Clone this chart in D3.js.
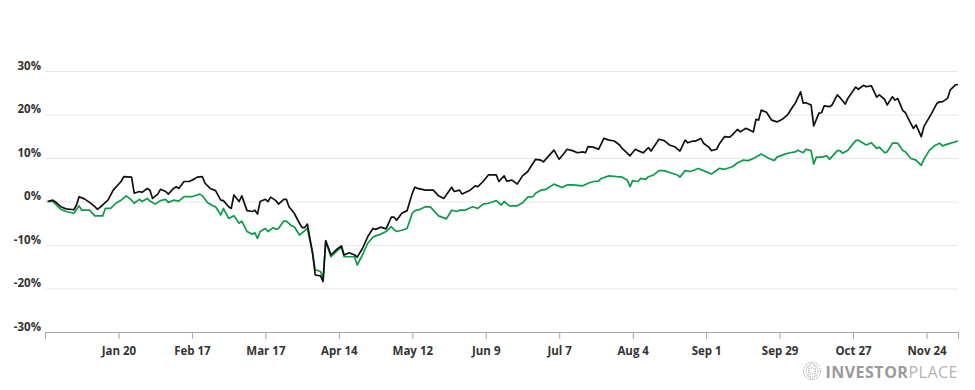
<!DOCTYPE html>
<html>
<head>
<meta charset="utf-8">
<script src="https://cdn.jsdelivr.net/npm/d3@7"></script>
<style>
  body { margin: 0; background: #fff; }
  svg { display: block; }
  svg text { font-family: "Open Sans", sans-serif; }
</style>
</head>
<body>
<script>
// performance since Dec 24 2024, in percent
var fundDates = ["2024-12-24","2024-12-26","2024-12-27","2024-12-29","2024-12-31","2025-01-03","2025-01-04","2025-01-05","2025-01-07","2025-01-09",
  "2025-01-11","2025-01-12","2025-01-14","2025-01-16","2025-01-18","2025-01-21","2025-01-22","2025-01-25","2025-01-26","2025-01-28",
  "2025-01-29","2025-01-31","2025-02-01","2025-02-02","2025-02-04","2025-02-05","2025-02-07","2025-02-08","2025-02-10","2025-02-11",
  "2025-02-12","2025-02-14","2025-02-16","2025-02-18","2025-02-19","2025-02-21","2025-02-22","2025-02-24","2025-02-26","2025-02-28",
  "2025-03-01","2025-03-03","2025-03-04","2025-03-05","2025-03-07","2025-03-08","2025-03-10","2025-03-12","2025-03-13","2025-03-14",
  "2025-03-15","2025-03-17","2025-03-18","2025-03-19","2025-03-21","2025-03-22","2025-03-24","2025-03-25","2025-03-26","2025-03-28",
  "2025-03-30","2025-03-31","2025-04-01","2025-04-02","2025-04-04","2025-04-05","2025-04-07","2025-04-08","2025-04-09","2025-04-11",
  "2025-04-13","2025-04-15","2025-04-16","2025-04-18","2025-04-20","2025-04-21","2025-04-23","2025-04-25","2025-04-27","2025-04-28",
  "2025-04-30","2025-05-02","2025-05-04","2025-05-05","2025-05-06","2025-05-08","2025-05-10","2025-05-12","2025-05-13","2025-05-14",
  "2025-05-17","2025-05-20","2025-05-22","2025-05-24","2025-05-27","2025-05-28","2025-05-30","2025-05-31","2025-06-03","2025-06-05",
  "2025-06-06","2025-06-08","2025-06-10","2025-06-13","2025-06-14","2025-06-16","2025-06-17","2025-06-19","2025-06-21","2025-06-23",
  "2025-06-25","2025-06-27","2025-06-28","2025-06-30","2025-07-01","2025-07-03","2025-07-05","2025-07-07","2025-07-09","2025-07-10",
  "2025-07-12","2025-07-14","2025-07-16","2025-07-17","2025-07-18","2025-07-20","2025-07-22","2025-07-24","2025-07-26","2025-07-28",
  "2025-07-30","2025-07-31","2025-08-03","2025-08-05","2025-08-06","2025-08-08","2025-08-10","2025-08-11","2025-08-13","2025-08-14",
  "2025-08-16","2025-08-18","2025-08-20","2025-08-22","2025-08-24","2025-08-25","2025-08-27","2025-08-28","2025-08-30","2025-08-31",
  "2025-09-02","2025-09-03","2025-09-05","2025-09-06","2025-09-08","2025-09-10","2025-09-11","2025-09-13","2025-09-14","2025-09-16",
  "2025-09-17","2025-09-19","2025-09-20","2025-09-21","2025-09-22","2025-09-24","2025-09-26","2025-09-28","2025-09-30","2025-10-02",
  "2025-10-04","2025-10-05","2025-10-07","2025-10-08","2025-10-09","2025-10-11","2025-10-12","2025-10-14","2025-10-15","2025-10-16",
  "2025-10-18","2025-10-19","2025-10-21","2025-10-22","2025-10-24","2025-10-25","2025-10-28","2025-10-29","2025-10-31","2025-11-01",
  "2025-11-03","2025-11-05","2025-11-06","2025-11-08","2025-11-09","2025-11-11","2025-11-12","2025-11-13","2025-11-15","2025-11-16",
  "2025-11-17","2025-11-19","2025-11-20","2025-11-22","2025-11-23","2025-11-26","2025-11-28","2025-11-29","2025-11-30","2025-12-02",
  "2025-12-03","2025-12-05","2025-12-06"];
var fundReturns = [0, 0.3, -0.1, -1.2, -1.7, -1.9, -0.8, 1.1, 0.6, -0.2,
  -1.2, -1.8, -0.8, 0.3, 2.6, 4.6, 5.7, 5.6, 1.9, 2.3,
  2.1, 3.0, 2.6, 0.7, 1.7, 2.8, 2.3, 1.7, 3.0, 3.4,
  3.0, 4.6, 4.6, 5.2, 5.6, 5.7, 4.2, 3.0, 2.5, 0.3,
  0.2, -1.2, -1.6, 1.5, 0, 1.3, -2.1, -2.3, -2.0, -2.9,
  0, 0.5, 0, 1.0, 0.2, -0.6, 0.5, 0.5, -1.2, -2.7,
  -5.0, -6.0, -6.0, -5.2, -11.9, -16.9, -17.1, -18.4, -9.0, -12.3,
  -11.1, -10.2, -12.3, -11.8, -12.3, -12.8, -10.8, -8.1, -6.2, -6.4,
  -5.9, -6.3, -3.6, -3.6, -4.3, -2.7, -2.1, 1.9, 3.3, 3.0,
  2.6, 2.6, 1.3, 0.7, 3.3, 2.3, 2.6, 1.7, 2.6, 3.6,
  3.4, 4.6, 6.1, 6.1, 4.6, 5.9, 4.7, 4.9, 4.0, 5.9,
  6.9, 8.8, 9.7, 9.5, 9.1, 10.5, 11.8, 9.7, 11.2, 12.0,
  11.7, 11.2, 11.4, 11.2, 12.6, 12.5, 12.0, 14.5, 14.1, 13.9,
  13.0, 12.2, 10.5, 12.0, 11.7, 11.2, 12.4, 11.6, 13.4, 14.3,
  14.0, 13.0, 12.6, 11.6, 14.1, 13.5, 13.9, 13.9, 14.5, 13.4,
  12.5, 11.7, 12.0, 13.2, 14.9, 14.8, 15.3, 16.6, 16.0, 16.8,
  16.6, 16.0, 18.9, 18.7, 21.0, 20.5, 18.7, 18.3, 18.9, 19.9,
  21.8, 22.6, 25.2, 22.6, 22.7, 22.2, 17.4, 20.3, 20.4, 22.0,
  21.8, 22.2, 24.5, 23.9, 22.4, 23.7, 26.3, 25.8, 26.7, 26.4,
  26.6, 24.0, 24.5, 23.5, 22.2, 24.1, 23.3, 23.7, 20.9, 20.4,
  19.1, 16.8, 17.6, 14.9, 17.2, 20.3, 22.6, 22.9, 22.9, 23.7,
  25.6, 26.8, 26.9];

var benchDates = ["2024-12-24","2024-12-26","2024-12-29","2024-12-31","2025-01-03","2025-01-05","2025-01-06","2025-01-09","2025-01-11","2025-01-14",
  "2025-01-15","2025-01-17","2025-01-19","2025-01-21","2025-01-23","2025-01-25","2025-01-26","2025-01-28","2025-01-29","2025-01-31",
  "2025-02-01","2025-02-03","2025-02-05","2025-02-07","2025-02-08","2025-02-10","2025-02-12","2025-02-14","2025-02-17","2025-02-19",
  "2025-02-20","2025-02-21","2025-02-23","2025-02-25","2025-02-26","2025-02-28","2025-03-01","2025-03-03","2025-03-05","2025-03-07",
  "2025-03-08","2025-03-10","2025-03-12","2025-03-13","2025-03-14","2025-03-15","2025-03-17","2025-03-18","2025-03-20","2025-03-21",
  "2025-03-22","2025-03-24","2025-03-25","2025-03-27","2025-03-28","2025-03-30","2025-03-31","2025-04-02","2025-04-04","2025-04-05",
  "2025-04-07","2025-04-08","2025-04-09","2025-04-11","2025-04-13","2025-04-15","2025-04-16","2025-04-18","2025-04-20","2025-04-21",
  "2025-04-23","2025-04-25","2025-04-27","2025-04-28","2025-04-30","2025-05-02","2025-05-04","2025-05-05","2025-05-06","2025-05-08",
  "2025-05-10","2025-05-12","2025-05-13","2025-05-15","2025-05-17","2025-05-19","2025-05-20","2025-05-22","2025-05-25","2025-05-27",
  "2025-05-29","2025-05-30","2025-06-01","2025-06-04","2025-06-06","2025-06-08","2025-06-10","2025-06-12","2025-06-13","2025-06-15",
  "2025-06-16","2025-06-18","2025-06-21","2025-06-23","2025-06-25","2025-06-27","2025-06-28","2025-06-30","2025-07-02","2025-07-05",
  "2025-07-08","2025-07-10","2025-07-12","2025-07-16","2025-07-18","2025-07-20","2025-07-22","2025-07-23","2025-07-26","2025-07-29",
  "2025-07-31","2025-08-02","2025-08-03","2025-08-04","2025-08-06","2025-08-07","2025-08-09","2025-08-10","2025-08-12","2025-08-14",
  "2025-08-16","2025-08-19","2025-08-21","2025-08-22","2025-08-24","2025-08-26","2025-08-29","2025-08-31","2025-09-03","2025-09-06",
  "2025-09-08","2025-09-11","2025-09-13","2025-09-15","2025-09-17","2025-09-19","2025-09-22","2025-09-25","2025-09-27","2025-09-28",
  "2025-10-01","2025-10-03","2025-10-05","2025-10-06","2025-10-08","2025-10-09","2025-10-11","2025-10-12","2025-10-13","2025-10-15",
  "2025-10-17","2025-10-18","2025-10-21","2025-10-22","2025-10-23","2025-10-25","2025-10-28","2025-10-29","2025-11-01","2025-11-03",
  "2025-11-05","2025-11-06","2025-11-08","2025-11-09","2025-11-11","2025-11-13","2025-11-15","2025-11-16","2025-11-18","2025-11-20",
  "2025-11-22","2025-11-23","2025-11-25","2025-11-27","2025-11-29","2025-11-30","2025-12-02","2025-12-06"];
var benchReturns = [0, 0, -1.8, -2.3, -2.7, -1.0, -2.0, -2.0, -3.3, -3.3,
  -1.6, -1.6, -0.4, 0.3, 1.3, 0.3, -0.4, 0.5, 0, 0.7,
  0.1, -0.6, 0.2, 0.5, -0.2, 0.3, 0.1, 1.1, 1.1, 1.5,
  1.7, 1.3, -0.3, -1.0, -1.2, -3.1, -1.6, -3.9, -3.3, -5.0,
  -4.5, -6.9, -7.5, -7.2, -8.5, -6.9, -6.2, -6.9, -6.0, -6.4,
  -6.2, -4.5, -4.5, -5.6, -5.8, -7.7, -7.2, -6.2, -11.9, -15.7,
  -16.1, -17.7, -9.2, -12.7, -11.5, -10.5, -12.7, -12.7, -12.7, -14.6,
  -12.3, -9.6, -8.2, -7.9, -7.5, -6.9, -5.8, -6.4, -6.9, -6.6,
  -6.2, -2.7, -2.1, -1.8, -1.2, -1.3, -2.0, -3.3, -4.0, -2.0,
  -2.3, -2.0, -2.0, -1.2, -1.6, -0.6, -0.4, 0, 0.2, -0.8,
  0, -1.0, -1.0, -0.3, 1.0, 1.1, 1.9, 2.6, 2.8, 4.0,
  3.2, 3.8, 3.8, 3.6, 4.2, 4.6, 4.7, 5.3, 5.9, 5.7,
  5.6, 4.9, 3.4, 4.8, 4.6, 5.3, 5.1, 5.7, 6.1, 7.1,
  7.1, 6.5, 6.1, 5.6, 7.1, 6.9, 7.6, 7.1, 6.3, 7.6,
  7.4, 8.0, 8.9, 9.5, 9.4, 9.9, 10.9, 9.9, 9.4, 10.2,
  10.9, 11.2, 11.4, 11.8, 11.2, 12.0, 11.7, 8.6, 10.2, 10.2,
  10.5, 9.7, 11.7, 11.7, 11.1, 11.8, 14.0, 14.1, 13.0, 13.5,
  12.2, 12.5, 11.2, 11.4, 13.4, 13.4, 11.7, 11.4, 9.9, 9.5,
  8.3, 9.7, 11.7, 12.8, 13.4, 12.8, 13.2, 13.9];

var yTicks = [-30, -20, -10, 0, 10, 20, 30];
var xTickLabels = ["2025-01-20","2025-02-17","2025-03-17","2025-04-14","2025-05-12","2025-06-09",
  "2025-07-07","2025-08-04","2025-09-01","2025-09-29","2025-10-27","2025-11-24"];
var dateRange = ["2024-12-23", "2025-12-06"];


var margin = {top: 71, right: 17, bottom: 58, left: 45};
var width = 975 - margin.left - margin.right;
var height = 390 - margin.top - margin.bottom;

var parse = d3.utcParse("%Y-%m-%d");

var svg = d3.select("body")
  .append("svg")
    .attr("width", 975)
    .attr("height", 390);

var chart = svg.append("g")
    .attr("transform", "translate(" + margin.left + "," + margin.top + ")");

var x = d3.scaleUtc()
  .domain(dateRange.map(parse))
  .range([0, width]);

var y = d3.scaleLinear()
  .domain([-30, 30])
  .range([height, 0]);

// gridlines + y labels
var yAxis = d3.axisLeft(y)
  .tickValues(yTicks)
  .tickSize(-width)
  .tickFormat(d => d + "%");

chart.append("g")
  .call(yAxis)
  .attr("font-family", null)
  .call(g => g.select(".domain").remove())
  .call(g => g.selectAll(".tick line").attr("stroke", "#e8e8e8").attr("stroke-width", 1))
  .call(g => g.selectAll(".tick text")
    .attr("x", -4)
    .attr("dy", "-0.15em")
    .attr("fill", "#333")
    .style("font-size", "11.5px")
    .style("font-weight", 700));

// x axis
var xAxis = d3.axisBottom(x)
  .tickValues(xTickLabels.map(parse))
  .tickFormat(d3.utcFormat("%b %-d"))
  .tickSizeOuter(0)
  .tickSize(7);

chart.append("g")
  .attr("transform", "translate(0," + height + ")")
  .call(xAxis)
  .attr("font-family", null)
  .call(g => g.select(".domain").attr("stroke", "#a6a6a6"))
  .call(g => g.selectAll(".tick line").attr("stroke", "#a6a6a6"))
  .call(g => g.selectAll(".tick text")
    .attr("y", 15)
    .attr("fill", "#333")
    .style("font-size", "11.5px")
    .style("font-weight", 700));

// lines
var line = d3.line()
  .x(d => x(d.date))
  .y(d => y(d.value));

var bench = benchDates.map((d, i) => ({date: parse(d), value: benchReturns[i]}));
var fund = fundDates.map((d, i) => ({date: parse(d), value: fundReturns[i]}));

chart.append("path")
  .datum(bench)
  .attr("fill", "none")
  .attr("stroke", "#0e9a48")
  .attr("stroke-width", 1.7)
  .attr("stroke-linejoin", "round")
  .attr("d", line);

chart.append("path")
  .datum(fund)
  .attr("fill", "none")
  .attr("stroke", "#111")
  .attr("stroke-width", 1.7)
  .attr("stroke-linejoin", "round")
  .attr("d", line);

// watermark
var logo = svg.append("g").attr("transform", "translate(812,371)");
[8.5, 6, 3.2].forEach(function(r) {
  logo.append("circle")
    .attr("r", r)
    .attr("fill", "none")
    .attr("stroke", "#b5b5b5")
    .attr("stroke-width", 1.2)
    .attr("stroke-dasharray", "1,1");
});
logo.append("ellipse")
  .attr("rx", 3.5).attr("ry", 8.5)
  .attr("fill", "none")
  .attr("stroke", "#b5b5b5")
  .attr("stroke-dasharray", "1,1");

var brand = svg.append("text")
  .attr("x", 958)
  .attr("y", 377.5)
  .attr("text-anchor", "end")
  .style("font-size", "16px")
  .style("letter-spacing", "0.5px");
brand.append("tspan").attr("fill", "#9a9a9a").style("font-weight", 700).text("INVESTOR");
brand.append("tspan").attr("fill", "#b3b3b3").style("font-weight", 400).text("PLACE");
</script>
</body>
</html>
